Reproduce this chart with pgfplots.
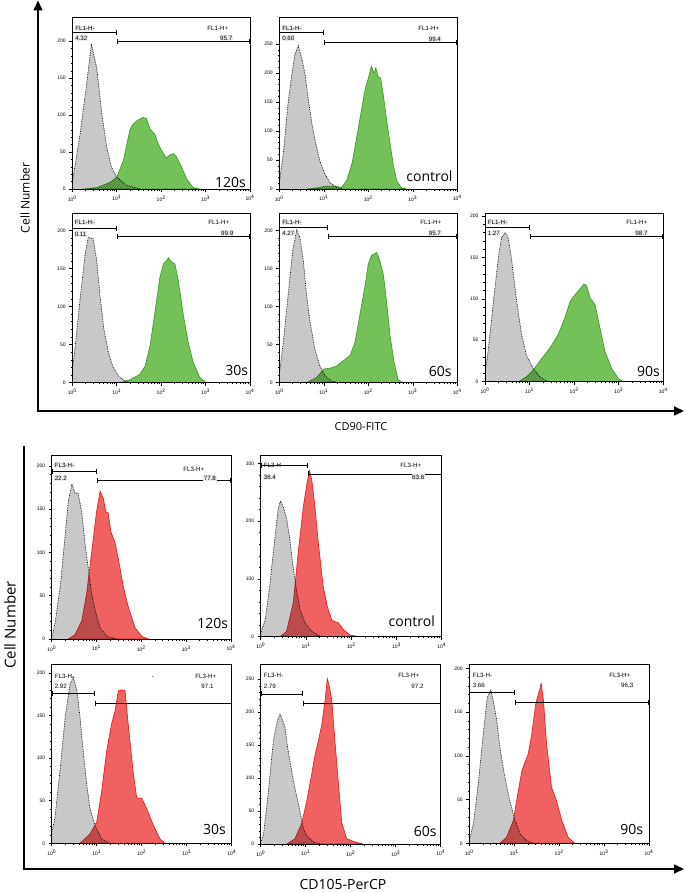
\documentclass[border=0pt]{standalone}
\usepackage{fontspec}
\setmainfont{Liberation Sans}
\newfontfamily\myr{Open Sans}
\usepackage{pgfplots}
\pgfplotsset{compat=1.18}
\usepackage{pgfplotstable}
\usetikzlibrary{arrows.meta}

\definecolor{greyfill}{RGB}{200,200,200}
\definecolor{gfill}{RGB}{116,193,90}
\definecolor{gline}{RGB}{90,178,60}
\definecolor{rfill}{RGB}{240,98,98}
\definecolor{rline}{RGB}{232,40,40}

% ---------- data: d = log10(fluorescence), c = cell count ----------
\pgfplotstableread[row sep=\\]{d c\\ 0 0\\ 0 9\\ 0.17 72\\ 0.32 141\\ 0.43 196\\ 0.55 164\\ 0.66 104\\ 0.77 58\\ 0.88 30\\ 1.0 16\\ 1.22 5\\ 1.52 0\\}\gA
\pgfplotstableread[row sep=\\]{d c\\ 0.25 0\\ 0.55 2\\ 0.85 9\\ 1.0 16\\ 1.15 39\\ 1.3 81\\ 1.37 88\\ 1.45 92\\ 1.52 95\\ 1.6 97\\ 1.67 95\\ 1.75 81\\ 1.86 74\\ 1.93 62\\ 2.0 53\\ 2.12 42\\ 2.19 46\\ 2.27 48\\ 2.34 44\\ 2.46 30\\ 2.57 14\\ 2.72 2\\ 2.87 0\\}\cA
\pgfplotstableread[row sep=\\]{d c\\ 0 0\\ 0 10.6\\ 0.09 61\\ 0.2 150\\ 0.28 197\\ 0.35 232\\ 0.43 247\\ 0.46 238\\ 0.52 220\\ 0.58 197\\ 0.65 155\\ 0.73 114\\ 0.8 85\\ 0.91 49\\ 1.03 25\\ 1.14 11\\ 1.29 2\\ 1.44 0\\}\gB
\pgfplotstableread[row sep=\\]{d c\\ 0.61 0\\ 0.84 2\\ 1.06 5\\ 1.25 5\\ 1.4 3\\ 1.51 14\\ 1.63 43\\ 1.74 90\\ 1.85 138\\ 1.93 173\\ 2.0 191\\ 2.07 212\\ 2.13 200\\ 2.17 209\\ 2.22 194\\ 2.28 191\\ 2.34 161\\ 2.41 120\\ 2.49 79\\ 2.56 43\\ 2.64 14\\ 2.75 2\\ 2.86 0\\}\cB
\pgfplotstableread[row sep=\\]{d c\\ 0 0\\ 0 18\\ 0.06 44\\ 0.17 107\\ 0.29 169\\ 0.36 191\\ 0.47 189\\ 0.55 160\\ 0.62 116\\ 0.71 71\\ 0.81 40\\ 0.92 20\\ 1.04 9\\ 1.19 2\\ 1.3 0\\}\gC
\pgfplotstableread[row sep=\\]{d c\\ 1.07 0\\ 1.3 4\\ 1.52 11\\ 1.64 22\\ 1.75 49\\ 1.86 93\\ 1.97 138\\ 2.05 156\\ 2.12 160\\ 2.16 164\\ 2.24 158\\ 2.31 156\\ 2.39 133\\ 2.5 89\\ 2.61 53\\ 2.72 27\\ 2.87 7\\ 3.02 0\\}\cC
\pgfplotstableread[row sep=\\]{d c\\ 0 0\\ 0 11\\ 0.09 53\\ 0.2 116\\ 0.3 173\\ 0.39 200\\ 0.46 191\\ 0.54 160\\ 0.61 116\\ 0.69 80\\ 0.8 44\\ 0.91 22\\ 1.03 9\\ 1.18 2\\ 1.36 0\\}\gD
\pgfplotstableread[row sep=\\]{d c\\ 0.61 0\\ 0.84 7\\ 1.0 18\\ 1.14 19\\ 1.29 22\\ 1.44 29\\ 1.59 36\\ 1.7 53\\ 1.81 89\\ 1.93 129\\ 2.0 156\\ 2.07 167\\ 2.13 169\\ 2.19 171\\ 2.26 160\\ 2.34 142\\ 2.41 107\\ 2.49 62\\ 2.58 27\\ 2.67 4\\ 2.79 0\\}\cD
\pgfplotstableread[row sep=\\]{d c\\ 0 0\\ 0 10\\ 0.07 37\\ 0.19 97\\ 0.3 150\\ 0.37 174\\ 0.45 180\\ 0.52 174\\ 0.6 146\\ 0.71 97\\ 0.82 57\\ 0.93 32\\ 1.08 16\\ 1.23 6\\ 1.38 1\\ 1.5 0\\}\gE
\pgfplotstableread[row sep=\\]{d c\\ 0.75 0\\ 0.93 6\\ 1.08 14\\ 1.27 28\\ 1.46 41\\ 1.64 57\\ 1.79 77\\ 1.91 97\\ 2.02 105\\ 2.13 112\\ 2.22 118\\ 2.28 116\\ 2.36 101\\ 2.47 93\\ 2.58 65\\ 2.69 37\\ 2.84 16\\ 2.99 4\\ 3.1 0\\}\cE
\pgfplotstableread[row sep=\\]{d c\\ 0 0\\ 0 1\\ 0.07 17\\ 0.19 60\\ 0.3 120\\ 0.37 159\\ 0.45 179\\ 0.52 169\\ 0.59 168\\ 0.67 147\\ 0.74 112\\ 0.82 80\\ 0.89 53\\ 0.97 33\\ 1.08 13\\ 1.23 3\\ 1.45 0\\}\gF
\pgfplotstableread[row sep=\\]{d c\\ 0.37 0\\ 0.52 5\\ 0.67 21\\ 0.78 53\\ 0.89 100\\ 1.0 147\\ 1.08 171\\ 1.15 163\\ 1.21 147\\ 1.26 146\\ 1.32 124\\ 1.41 112\\ 1.49 92\\ 1.6 60\\ 1.71 37\\ 1.86 13\\ 2.01 3\\ 2.16 0\\}\cF
\pgfplotstableread[row sep=\\]{d c\\ 0 0\\ 0 6\\ 0.1 29\\ 0.2 88\\ 0.32 176\\ 0.39 224\\ 0.44 235\\ 0.5 224\\ 0.57 206\\ 0.65 165\\ 0.72 118\\ 0.8 76\\ 0.87 47\\ 0.98 24\\ 1.13 9\\ 1.31 1\\ 1.46 0\\}\gG
\pgfplotstableread[row sep=\\]{d c\\ 0.43 0\\ 0.57 9\\ 0.72 59\\ 0.83 147\\ 0.94 224\\ 1.02 265\\ 1.08 288\\ 1.13 271\\ 1.2 224\\ 1.27 165\\ 1.38 88\\ 1.47 53\\ 1.57 29\\ 1.64 26\\ 1.72 24\\ 1.83 12\\ 1.97 3\\ 2.16 0\\}\cG
\pgfplotstableread[row sep=\\]{d c\\ 0 0\\ 0 13\\ 0.07 29\\ 0.19 88\\ 0.3 148\\ 0.41 187\\ 0.48 195\\ 0.56 179\\ 0.63 148\\ 0.7 108\\ 0.78 69\\ 0.85 41\\ 0.96 21\\ 1.11 5\\ 1.3 0\\}\gH
\pgfplotstableread[row sep=\\]{d c\\ 0.63 0\\ 0.85 11\\ 1.0 25\\ 1.11 61\\ 1.22 108\\ 1.33 140\\ 1.41 156\\ 1.48 179\\ 1.56 180\\ 1.63 179\\ 1.7 140\\ 1.81 84\\ 1.89 53\\ 2.0 53\\ 2.11 41\\ 2.26 21\\ 2.41 5\\ 2.52 0\\}\cH
\pgfplotstableread[row sep=\\]{d c\\ 0 0\\ 0 3\\ 0.06 13\\ 0.17 79\\ 0.28 156\\ 0.37 187\\ 0.43 197\\ 0.49 187\\ 0.54 177\\ 0.61 141\\ 0.69 110\\ 0.76 85\\ 0.86 54\\ 0.95 23\\ 1.02 13\\ 1.17 3\\ 1.32 0\\}\gI
\pgfplotstableread[row sep=\\]{d c\\ 0.58 0\\ 0.76 8\\ 0.91 31\\ 1.02 64\\ 1.13 105\\ 1.21 136\\ 1.28 156\\ 1.36 182\\ 1.43 218\\ 1.48 251\\ 1.53 238\\ 1.58 218\\ 1.65 156\\ 1.73 90\\ 1.8 33\\ 1.91 8\\ 2.1 3\\ 2.28 0\\}\cI
\pgfplotstableread[row sep=\\]{d c\\ 0 0\\ 0 3\\ 0.09 22\\ 0.2 68\\ 0.31 125\\ 0.4 167\\ 0.48 175\\ 0.53 164\\ 0.61 141\\ 0.68 110\\ 0.79 76\\ 0.9 49\\ 1.02 26\\ 1.13 11\\ 1.28 3\\ 1.42 0\\}\gJ
\pgfplotstableread[row sep=\\]{d c\\ 0.68 0\\ 0.83 7\\ 0.98 26\\ 1.09 60\\ 1.17 83\\ 1.24 93\\ 1.31 102\\ 1.39 125\\ 1.48 160\\ 1.56 175\\ 1.6 183\\ 1.65 164\\ 1.72 114\\ 1.83 64\\ 1.94 49\\ 2.06 26\\ 2.2 7\\ 2.35 0\\}\cJ

\pgfplotsset{flow/.style={
  scale only axis, anchor=south west,
  xmin=0, xmax=4, ymin=0,
  xtick={0,1,2,3,4},
  xticklabels={10\textsuperscript{0},10\textsuperscript{1},10\textsuperscript{2},10\textsuperscript{3},10\textsuperscript{4}},
  minor xtick={0.301,0.477,0.602,0.699,0.778,0.845,0.903,0.954,1.301,1.477,1.602,1.699,1.778,1.845,1.903,1.954,2.301,2.477,2.602,2.699,2.778,2.845,2.903,2.954,3.301,3.477,3.602,3.699,3.778,3.845,3.903,3.954},
  minor y tick num=4,
  tick align=outside, xtick pos=bottom, ytick pos=left,
  major tick length=3pt, minor tick length=1.6pt,
  every tick/.style={black, line width=0.5pt},
  axis line style={line width=0.8pt, black},
  ticklabel style={font=\fontsize{5}{6}\selectfont},
  /pgf/number format/assume math mode=true,
  axis on top,
}}

\newcommand{\hist}[4]{%
  \addplot[fill=greyfill, draw=none] table {#1} \closedcycle;
  \addplot[fill=#3, draw=#4, line width=0.6pt, blend mode=multiply] table {#2} \closedcycle;
  \addplot[black, densely dotted, line width=0.7pt] table {#1};
}

\tikzset{
  gate/.style={line width=0.9pt, {Bar[width=5pt]}-{Bar[width=5pt]}},
  gl/.style={font=\fontsize{6.2}{7}\selectfont, inner sep=0.6pt, fill=white!93!black},
  glb/.style={font=\fontsize{6.2}{7}\selectfont, inner sep=0.6pt},
  pl/.style={font=\myr\fontsize{14}{16}\selectfont, inner sep=0pt},
  big/.style={line width=1.6pt},
}
% L, cap, R, y-, y+
\newcommand{\gate}[5]{%
  \draw[gate] (#1,#4) -- (#2,#4);
  \draw[gate] (#2,#5) -- (#3,#5);
}

\begin{document}
\begin{tikzpicture}
\useasboundingbox (0,0) rectangle (685pt,893pt);

% ----- top figure: CD90-FITC -----
\begin{axis}[flow, at={(72.3pt,704pt)}, width=177.7pt, height=172pt, ymax=232.8, ytick={0,50,100,150,200}]
\hist{\gA}{\cA}{gfill}{gline}
\end{axis}
\begin{axis}[flow, at={(279.3pt,704pt)}, width=178pt, height=172pt, ymax=296.6, ytick={0,50,100,150,200,250}]
\hist{\gB}{\cB}{gfill}{gline}
\end{axis}
\begin{axis}[flow, at={(72.3pt,510.3pt)}, width=177.7pt, height=169.4pt, ymax=222.3, ytick={0,50,100,150,200}]
\hist{\gC}{\cC}{gfill}{gline}
\end{axis}
\begin{axis}[flow, at={(279.3pt,510.3pt)}, width=178pt, height=169.4pt, ymax=222.3, ytick={0,50,100,150,200}]
\hist{\gD}{\cD}{gfill}{gline}
\end{axis}
\begin{axis}[flow, at={(485pt,511.3pt)}, width=178.3pt, height=168.4pt, ymax=203.3, ytick={0,50,100,150,200}]
\hist{\gE}{\cE}{gfill}{gline}
\end{axis}

% ----- bottom figure: CD105-PerCP -----
\begin{axis}[flow, at={(51.7pt,254pt)}, width=179.3pt, height=184pt, ymax=212.7, ytick={0,50,100,150,200}]
\hist{\gF}{\cF}{rfill}{rline}
\end{axis}
\begin{axis}[flow, at={(260.7pt,256.3pt)}, width=181pt, height=181.7pt, ymax=314.5, ytick={0,100,200,300}]
\hist{\gG}{\cG}{rfill}{rline}
\end{axis}
\begin{axis}[flow, at={(51.7pt,49.7pt)}, width=180pt, height=179.3pt, ymax=210.3, ytick={0,50,100,150,200}]
\hist{\gH}{\cH}{rfill}{rline}
\end{axis}
\begin{axis}[flow, at={(260.7pt,49pt)}, width=180pt, height=180pt, ymax=273, ytick={0,50,100,150,200,250}]
\hist{\gI}{\cI}{rfill}{rline}
\end{axis}
\begin{axis}[flow, at={(469.3pt,49.7pt)}, width=179.7pt, height=179.3pt, ymax=205, ytick={0,50,100,150,200}]
\hist{\gJ}{\cJ}{rfill}{rline}
\end{axis}

% ----- annotations in pixel coordinates (y downward) -----
\begin{scope}[yshift=893pt, x=1pt, y=-1pt]
% frames
\draw[big, -{Triangle[length=10pt,width=9pt]}] (38,411) -- (38,0.5);
\draw[big, -{Triangle[length=10pt,width=9pt]}] (37.2,411) -- (684,411);
\draw[big] (24,446) -- (24,869);
\draw[big, -{Triangle[length=10pt,width=9pt]}] (23.2,869) -- (684,869);
\node[rotate=90, font=\myr\fontsize{12}{14}\selectfont] at (25,198) {Cell Number};
\node[font=\myr\fontsize{11}{13}\selectfont] at (361,427) {CD90-FITC};
\node[rotate=90, font=\myr\fontsize{15}{17}\selectfont] at (10,625) {Cell Number};
\node[font=\myr\fontsize{14}{16}\selectfont] at (343,884) {CD105-PerCP};

% P1
\gate{72.3}{116.7}{250}{32.3}{41.7}
\node[gl, anchor=west] at (74.5,28.3) {FL1-H-};
\node[gl, anchor=west] at (74.5,38.3) {4.32};
\node[glb, anchor=east] at (229,28.3) {FL1-H+};
\node[gl, anchor=east] at (233,38.3) {95.7};
\node[pl, anchor=base east] at (246,187.5) {120s};
% P2
\gate{279.3}{324}{457.3}{32.7}{42.3}
\node[gl, anchor=west] at (281.5,28.3) {FL1-H-};
\node[gl, anchor=west] at (281.5,38.3) {0.60};
\node[glb, anchor=east] at (440,28.3) {FL1-H+};
\node[gl, anchor=east] at (441.7,39) {99.4};
\node[pl, anchor=base east] at (452.7,182) {control};
% P3
\gate{72.3}{116.7}{250}{228.3}{236.7}
\node[gl, anchor=west] at (74,222.7) {FL1-H-};
\node[gl, anchor=west] at (74,234) {0.11};
\node[glb, anchor=east] at (230,222.7) {FL1-H+};
\node[gl, anchor=east] at (234,233.3) {99.9};
\node[pl, anchor=base east] at (248.3,376) {30s};
% P4
\gate{279.3}{327.7}{457.3}{227.3}{236.7}
\node[gl, anchor=west] at (281.5,222.7) {FL1-H-};
\node[gl, anchor=west] at (281.5,233.3) {4.27};
\node[glb, anchor=east] at (442,222.7) {FL1-H+};
\node[gl, anchor=east] at (441.7,233.3) {95.7};
\node[pl, anchor=base east] at (451.7,376.7) {60s};
% P5
\gate{485}{530}{663.3}{227.3}{236.7}
\node[gl, anchor=west] at (487,222.7) {FL1-H-};
\node[gl, anchor=west] at (487,233.3) {1.27};
\node[glb, anchor=east] at (648,222.7) {FL1-H+};
\node[gl, anchor=east] at (648.3,233.3) {98.7};
\node[pl, anchor=base east] at (660,376.7) {90s};
% P6
\gate{51.7}{97.3}{231}{471.7}{480.7}
\node[gl, anchor=west] at (54,465.7) {FL3-H-};
\node[gl, anchor=west] at (54,478.3) {22.2};
\node[glb, anchor=east] at (205,469) {FL3-H+};
\node[gl, anchor=east] at (216.7,478.3) {77.8};
\node[pl, anchor=base east] at (228.3,628.3) {120s};
% P7
\gate{260.7}{308.3}{441.7}{465.7}{474}
\node[glb, anchor=west] at (263,465.7) {FL3-H-};
\node[gl, anchor=west] at (263,477) {36.4};
\node[glb, anchor=east] at (422,465.7) {FL3-H+};
\node[gl, anchor=east] at (425,477) {63.6};
\node[pl, anchor=base east] at (435,626.7) {control};
% P8
\gate{51.7}{95}{231.7}{693.3}{703.3}
\node[glb, anchor=west] at (54,676) {FL3-H-};
\node[glb, anchor=west] at (54,686) {2.92};
\node[glb, anchor=east] at (217,676) {FL3-H+};
\node[glb, anchor=east] at (214.3,686) {97.1};
\node[glb] at (153,678) {-};
\node[pl, anchor=base east] at (226,835) {30s};
% P9
\gate{260.7}{303.3}{440.7}{694}{703.3}
\node[glb, anchor=west] at (263,675.7) {FL3-H-};
\node[glb, anchor=west] at (263,686.7) {2.79};
\node[glb, anchor=east] at (420,675.7) {FL3-H+};
\node[glb, anchor=east] at (424.3,686.7) {97.2};
\node[pl, anchor=base east] at (436.7,836.7) {60s};
% P10
\gate{469.3}{515}{649}{692.7}{702.3}
\node[glb, anchor=west] at (472,675) {FL3-H-};
\node[glb, anchor=west] at (472,685) {3.66};
\node[glb, anchor=east] at (631,675) {FL3-H+};
\node[glb, anchor=east] at (634,685) {96.3};
\node[pl, anchor=base east] at (643.3,835) {90s};
\end{scope}
\end{tikzpicture}
\end{document}
